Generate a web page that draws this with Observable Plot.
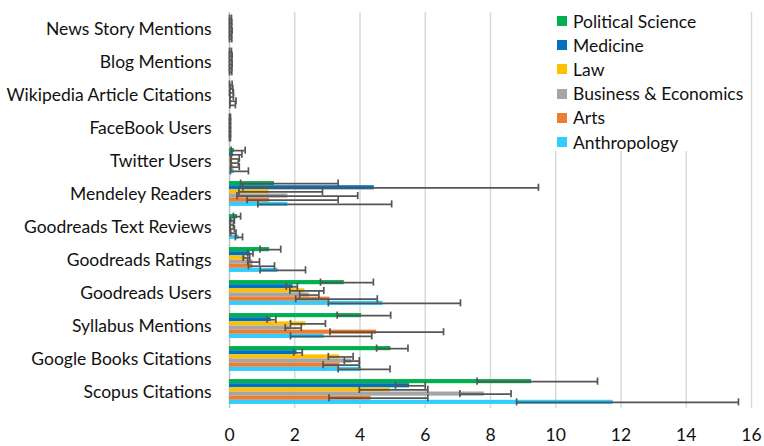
<!DOCTYPE html>
<html>
<head>
<meta charset="utf-8">
<script src="https://cdn.jsdelivr.net/npm/d3@7"></script>
<script src="https://cdn.jsdelivr.net/npm/@observablehq/plot@0.6"></script>
<style>
  html, body { margin: 0; padding: 0; background: #fff; }
  #wrap { position: relative; width: 764px; height: 446px; }
  #legend { position: absolute; left: 550px; top: 8px; width: 198px; height: 143px; background: #fff;
            font-family: Lato, "Open Sans", sans-serif; font-size: 17.5px; color: #111; }
  .item { position: absolute; left: 7px; height: 24px; display: flex; align-items: center; white-space: nowrap; }
  .sw { width: 10px; height: 10px; margin-right: 6px; flex: none; }
</style>
</head>
<body>
<div id="wrap"><div id="legend"></div></div>
<script>
const categories = ["News Story Mentions", "Blog Mentions", "Wikipedia Article Citations", "FaceBook Users",
  "Twitter Users", "Mendeley Readers", "Goodreads Text Reviews", "Goodreads Ratings", "Goodreads Users",
  "Syllabus Mentions", "Google Books Citations", "Scopus Citations"];
const seriesNames = ["Political Science", "Medicine", "Law", "Business & Economics", "Arts", "Anthropology"];
const seriesColors = ["#00B050", "#0070C0", "#FFC000", "#A5A5A5", "#ED7D31", "#33CCFF"];
const xTicks = [0, 2, 4, 6, 8, 10, 12, 14, 16];

// values, lower and upper error-bar ends, in category order
const polSciVal = [0.02, 0.02, 0.03, 0.01, 0.15, 1.38, 0.25, 1.23, 3.52, 4.05, 4.95, 9.26];
const polSciLo  = [0.00, 0.00, 0.00, 0.00, 0.05, 0.34, 0.12, 0.94, 2.79, 3.30, 4.51, 7.59];
const polSciHi  = [0.06, 0.06, 0.08, 0.03, 0.48, 3.33, 0.34, 1.57, 4.41, 4.94, 5.47, 11.28];

const medVal = [0.02, 0.03, 0.05, 0.01, 0.12, 4.44, 0.08, 0.64, 1.95, 1.28, 2.07, 5.52];
const medLo  = [0.00, 0.00, 0.01, 0.00, 0.05, 0.41, 0.03, 0.56, 1.74, 1.15, 1.97, 5.09];
const medHi  = [0.07, 0.08, 0.10, 0.03, 0.38, 9.47, 0.15, 0.72, 2.08, 1.42, 2.23, 6.00];

const lawVal = [0.02, 0.02, 0.04, 0.01, 0.10, 1.21, 0.05, 0.51, 2.31, 2.34, 3.38, 4.93];
const lawLo  = [0.00, 0.00, 0.00, 0.00, 0.03, 0.29, 0.02, 0.42, 1.85, 1.87, 3.03, 3.98];
const lawHi  = [0.06, 0.07, 0.12, 0.03, 0.30, 2.85, 0.12, 0.62, 2.89, 2.94, 3.79, 6.08];

const busVal = [0.03, 0.03, 0.06, 0.01, 0.10, 1.79, 0.07, 0.72, 2.45, 1.90, 3.75, 7.81];
const busLo  = [0.00, 0.00, 0.01, 0.00, 0.05, 0.23, 0.02, 0.56, 2.15, 1.71, 3.52, 7.06];
const busHi  = [0.08, 0.08, 0.12, 0.03, 0.27, 3.93, 0.15, 0.92, 2.74, 2.20, 3.98, 8.63];

const artsVal = [0.02, 0.02, 0.05, 0.01, 0.12, 1.23, 0.08, 0.72, 3.08, 4.51, 3.38, 4.34];
const artsLo  = [0.00, 0.00, 0.01, 0.00, 0.04, 0.54, 0.03, 0.58, 2.03, 3.08, 2.87, 3.05];
const artsHi  = [0.06, 0.07, 0.20, 0.03, 0.30, 3.33, 0.20, 1.38, 4.53, 6.56, 3.98, 6.08];

const anthVal = [0.02, 0.02, 0.06, 0.01, 0.15, 1.79, 0.30, 1.49, 4.70, 2.90, 4.05, 11.76];
const anthLo  = [0.00, 0.00, 0.01, 0.00, 0.03, 0.87, 0.18, 0.94, 3.03, 1.87, 3.33, 8.80];
const anthHi  = [0.07, 0.07, 0.18, 0.03, 0.58, 4.97, 0.40, 2.33, 7.08, 4.36, 4.92, 15.60];

const seriesVals = [polSciVal, medVal, lawVal, busVal, artsVal, anthVal];
const seriesLo = [polSciLo, medLo, lawLo, busLo, artsLo, anthLo];
const seriesHi = [polSciHi, medHi, lawHi, busHi, artsHi, anthHi];

const rows = [];
seriesNames.forEach((s, k) => {
  categories.forEach((c, i) => {
    rows.push({category: c, series: s, value: seriesVals[k][i], lo: seriesLo[k][i], hi: seriesHi[k][i]});
  });
});

const FONT = "Lato, 'Open Sans', sans-serif";
const errColor = "#555555";

const chart = Plot.plot({
  width: 764,
  height: 446,
  marginLeft: 229,
  marginRight: 13,
  marginTop: 8,
  marginBottom: 35,
  style: {fontFamily: FONT, fontSize: "17.5px", color: "#111", background: "#fff"},
  x: {domain: [0, 16], ticks: xTicks, tickSize: 0, tickPadding: 20, label: null},
  fy: {domain: categories, padding: 0, tickSize: 0, tickPadding: 18, label: null},
  y: {domain: seriesNames, paddingInner: 0, paddingOuter: 0.98, round: false, axis: null},
  color: {domain: seriesNames, range: seriesColors},
  marks: [
    Plot.ruleX(xTicks.slice(1), {stroke: "#d9d9d9", strokeWidth: 1.5}),
    Plot.ruleX([0], {stroke: "#bfbfbf", strokeWidth: 1.5}),
    Plot.barX(rows, {fy: "category", y: "series", x: "value", fill: "series"}),
    Plot.ruleY(rows, {fy: "category", y: "series", x1: "lo", x2: "hi", stroke: errColor, strokeWidth: 1.7}),
    Plot.tickX(rows, {fy: "category", y: "series", x: "lo", stroke: errColor, strokeWidth: 1.7, insetTop: -1.5, insetBottom: -1.5}),
    Plot.tickX(rows, {fy: "category", y: "series", x: "hi", stroke: errColor, strokeWidth: 1.7, insetTop: -1.5, insetBottom: -1.5})
  ]
});
document.getElementById("wrap").prepend(chart);

const legend = document.getElementById("legend");
seriesNames.forEach((s, k) => {
  const it = document.createElement("div");
  it.className = "item";
  it.style.top = (1 + k * 24.2) + "px";
  const sw = document.createElement("span");
  sw.className = "sw";
  sw.style.background = seriesColors[k];
  const tx = document.createElement("span");
  tx.textContent = s;
  it.appendChild(sw);
  it.appendChild(tx);
  legend.appendChild(it);
});
</script>
</body>
</html>
